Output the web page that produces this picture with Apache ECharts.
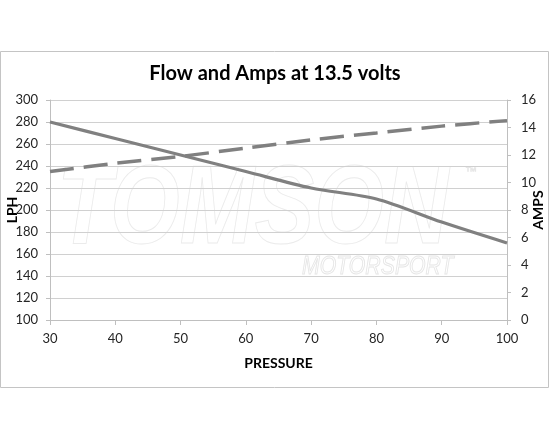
<!DOCTYPE html>
<html>
<head>
<meta charset="utf-8">
<script src="https://cdn.jsdelivr.net/npm/echarts@6/dist/echarts.min.js"></script>
<style>html,body{margin:0;padding:0;background:#fff}#c{width:550px;height:440px}</style>
</head>
<body>
<div id="c"></div>
<script>
const pressure = [30, 40, 50, 60, 70, 80, 90, 100];
const lph = [280, 265, 250, 235, 220, 210, 189, 170];
const amps = [10.8, 11.4, 11.9, 12.5, 13.1, 13.6, 14.1, 14.5];
const titleText = 'Flow and Amps at 13.5 volts';

const chart = echarts.init(document.getElementById('c'), null, {renderer: 'canvas'});
const FONT = 'Lato';
const labelStyle = {color: '#262626', fontSize: 13, fontFamily: FONT};
const nameStyle = {color: '#000', fontSize: 14, fontWeight: 'bold', fontFamily: FONT};

chart.setOption({
  animation: false,
  backgroundColor: '#fff',
  title: {
    text: titleText, left: 'center', top: 59,
    textStyle: {color: '#000', fontSize: 20, fontWeight: 'bold', fontFamily: FONT}
  },
  graphic: [
    {type: 'rect', z: -10, shape: {x: 0.5, y: 51.5, width: 548, height: 336},
     style: {fill: 'none', stroke: '#c4c4c4', lineWidth: 1}},
    {type: 'text', z: -5, x: 57, y: 212, scaleX: 0.8,
     style: {text: 'TOMSON', font: 'italic bold 112px "Liberation Sans"', fill: 'rgba(255,255,255,0)', stroke: '#ebebeb', lineWidth: 1, verticalAlign: 'middle'}},
    {type: 'text', z: -5, x: 302, y: 267, scaleX: 0.85,
     style: {text: 'MOTORSPORT', font: 'italic 25px "Liberation Sans"', fill: 'rgba(255,255,255,0)', stroke: '#e6e6e6', lineWidth: 1, verticalAlign: 'middle'}},
    {type: 'text', z: -5, x: 465, y: 172,
     style: {text: '™', font: '12px "Liberation Sans"', fill: 'rgba(255,255,255,0)', stroke: '#e6e6e6', lineWidth: 0.7, verticalAlign: 'middle'}}
  ],
  grid: {left: 50, right: 43, top: 100, bottom: 120, containLabel: false, outerBoundsMode: 'none'},
  xAxis: {
    type: 'value', min: 30, max: 100, interval: 10,
    name: 'PRESSURE', nameLocation: 'middle', nameGap: 36, nameTextStyle: nameStyle,
    axisLine: {show: true, lineStyle: {color: '#bfbfbf', width: 1}},
    axisTick: {show: true, length: 5, lineStyle: {color: '#bfbfbf'}},
    axisLabel: Object.assign({margin: 12}, labelStyle),
    splitLine: {show: false}
  },
  yAxis: [
    {
      type: 'value', min: 100, max: 300, interval: 20, position: 'left',
      name: 'LPH', nameLocation: 'middle', nameGap: 31, nameRotate: 90, nameMoveOverlap: false, nameTextStyle: nameStyle,
      axisLine: {show: true, lineStyle: {color: '#bfbfbf', width: 1}},
      axisTick: {show: true, length: 4, lineStyle: {color: '#bfbfbf'}},
      axisLabel: Object.assign({margin: 12}, labelStyle),
      splitLine: {show: true, lineStyle: {color: '#d0d0d0', width: 1}}
    },
    {
      type: 'value', min: 0, max: 16, interval: 2, position: 'right',
      name: 'AMPS', nameLocation: 'middle', nameGap: 24, nameRotate: 90, nameMoveOverlap: false, nameTextStyle: nameStyle,
      axisLine: {show: true, lineStyle: {color: '#bfbfbf', width: 1}},
      axisTick: {show: true, length: 4, lineStyle: {color: '#bfbfbf'}},
      axisLabel: Object.assign({margin: 14}, labelStyle),
      splitLine: {show: false}
    }
  ],
  series: [
    {
      name: 'LPH', type: 'line', yAxisIndex: 0, smooth: 0.3, symbol: 'none',
      data: pressure.map((p, i) => [p, lph[i]]),
      lineStyle: {color: '#808080', width: 3.2}
    },
    {
      name: 'AMPS', type: 'line', yAxisIndex: 1, smooth: 0.3, symbol: 'none',
      data: pressure.map((p, i) => [p, amps[i]]),
      lineStyle: {color: '#808080', width: 3.5, type: [24, 10], cap: 'butt'}
    }
  ]
});
</script>
</body>
</html>
